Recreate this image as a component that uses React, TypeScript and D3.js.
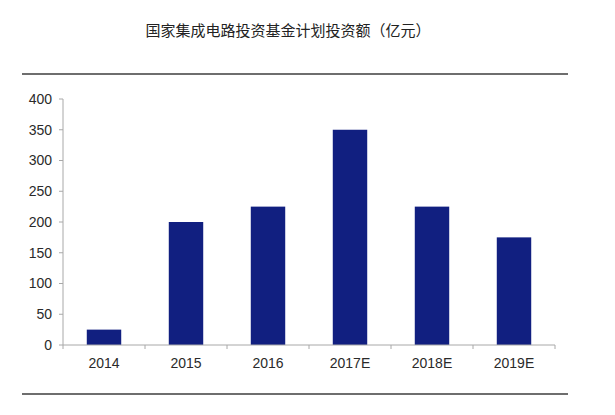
import React, { useEffect, useRef } from 'react';
import * as d3 from 'd3';

const title = '国家集成电路投资基金计划投资额（亿元）';
const categories = ['2014', '2015', '2016', '2017E', '2018E', '2019E'];
const values = [25, 200, 225, 350, 225, 175];
const yTicks = [0, 50, 100, 150, 200, 250, 300, 350, 400];

const App: React.FC = () => {
  const svgRef = useRef<SVGSVGElement>(null);

  useEffect(() => {
    if (!svgRef.current) return;
    const svg = d3.select(svgRef.current);
    svg.selectAll('*').remove();

    const width = 615;
    const height = 415;
    const plot = { left: 63, right: 555, top: 99, bottom: 345 };
    const axisColor = '#a8a8a8';
    const labelFont = '"Liberation Sans", Arial, sans-serif';

    svg.append('rect').attr('width', width).attr('height', height).attr('fill', '#fff');

    // Title
    svg.append('text')
      .attr('x', 288)
      .attr('y', 36)
      .attr('text-anchor', 'middle')
      .attr('font-family', '"Noto Sans CJK SC", sans-serif')
      .attr('font-size', 15)
      .attr('fill', '#222')
      .text(title);

    // Top and bottom rules
    [74, 394].forEach(y => {
      svg.append('line')
        .attr('x1', 22).attr('x2', 568)
        .attr('y1', y).attr('y2', y)
        .attr('stroke', '#6e6e6e')
        .attr('stroke-width', 2);
    });

    const x = d3.scaleBand<string>()
      .domain(categories)
      .range([plot.left, plot.right])
      .paddingInner(0.58)
      .paddingOuter(0.29);

    const xTicks = d3.scaleBand<string>()
      .domain(categories)
      .range([plot.left, plot.right]);

    const y = d3.scaleLinear()
      .domain([0, 400])
      .range([plot.bottom, plot.top]);

    // Bars
    svg.append('g')
      .selectAll('rect')
      .data(values)
      .join('rect')
      .attr('x', (d, i) => x(categories[i]) as number)
      .attr('y', d => y(d))
      .attr('width', x.bandwidth())
      .attr('height', d => y(0) - y(d))
      .attr('fill', '#111f80');

    // Y axis
    const yAxis = svg.append('g');
    yAxis.append('line')
      .attr('x1', plot.left).attr('x2', plot.left)
      .attr('y1', y(400)).attr('y2', y(0))
      .attr('stroke', axisColor);
    yTicks.forEach(t => {
      yAxis.append('line')
        .attr('x1', plot.left - 4).attr('x2', plot.left)
        .attr('y1', y(t)).attr('y2', y(t))
        .attr('stroke', axisColor);
      yAxis.append('text')
        .attr('x', 52)
        .attr('y', y(t))
        .attr('dy', '0.35em')
        .attr('text-anchor', 'end')
        .attr('font-family', labelFont)
        .attr('font-size', 14)
        .attr('fill', '#2a2a2a')
        .text(t);
    });

    // X axis
    const xAxis = svg.append('g');
    xAxis.append('line')
      .attr('x1', plot.left).attr('x2', plot.right)
      .attr('y1', plot.bottom).attr('y2', plot.bottom)
      .attr('stroke', axisColor);
    const edges = categories.map(c => xTicks(c) as number).concat([plot.right]);
    edges.forEach(e => {
      xAxis.append('line')
        .attr('x1', e).attr('x2', e)
        .attr('y1', plot.bottom).attr('y2', plot.bottom + 4)
        .attr('stroke', axisColor);
    });
    categories.forEach(c => {
      xAxis.append('text')
        .attr('x', (xTicks(c) as number) + xTicks.bandwidth() / 2)
        .attr('y', 363)
        .attr('dy', '0.35em')
        .attr('text-anchor', 'middle')
        .attr('font-family', labelFont)
        .attr('font-size', 14)
        .attr('fill', '#2a2a2a')
        .text(c);
    });
  }, []);

  return (
    <svg
      ref={svgRef}
      width={615}
      height={415}
      style={{ position: 'absolute', left: 0, top: 0 }}
    />
  );
};

export default App;
